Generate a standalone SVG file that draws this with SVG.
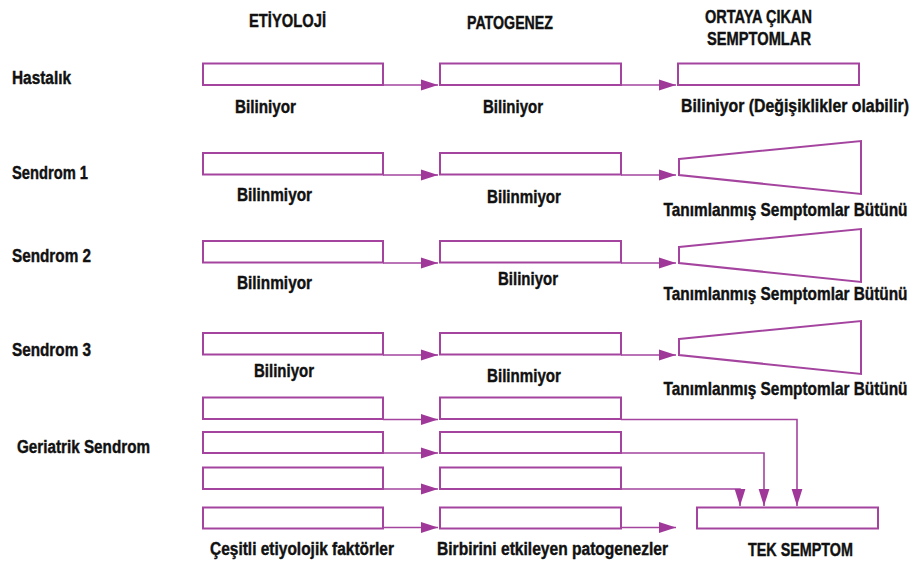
<svg xmlns="http://www.w3.org/2000/svg" width="914" height="567" viewBox="0 0 914 567">
  <defs>
    <style>
      text { font-family: "Liberation Sans", Arial, sans-serif; font-weight: bold; font-size: 18px; fill: #111; stroke: #111; stroke-width: 0.4; }
      .box { fill: #fff; stroke: #a4449f; stroke-width: 2; }
      .conn { fill: none; stroke: #a4449f; stroke-width: 1.6; marker-end: url(#arrow); }
    </style>
    <marker id="arrow" markerUnits="userSpaceOnUse" markerWidth="17" markerHeight="12" refX="17" refY="6" orient="auto">
      <path d="M0,0.6 L17,6 L0,11.4 z" fill="#a0389a"/>
    </marker>
  </defs>
  <rect width="914" height="567" fill="#fff"/>

  <!-- column headings -->
  <g id="headings">
    <text x="249" y="26.5" textLength="77" lengthAdjust="spacingAndGlyphs">ETİYOLOJİ</text>
    <text x="467" y="29" textLength="86" lengthAdjust="spacingAndGlyphs">PATOGENEZ</text>
    <text x="705" y="23.3" textLength="107" lengthAdjust="spacingAndGlyphs">ORTAYA ÇIKAN</text>
    <text x="707" y="45" textLength="104" lengthAdjust="spacingAndGlyphs">SEMPTOMLAR</text>
  </g>

  <!-- row headings -->
  <g id="row-labels">
    <text x="12" y="84" textLength="59" lengthAdjust="spacingAndGlyphs">Hastalık</text>
    <text x="12" y="178.5" textLength="76" lengthAdjust="spacingAndGlyphs">Sendrom 1</text>
    <text x="12" y="261.7" textLength="79" lengthAdjust="spacingAndGlyphs">Sendrom 2</text>
    <text x="12" y="355.7" textLength="79" lengthAdjust="spacingAndGlyphs">Sendrom 3</text>
    <text x="17" y="452.7" textLength="133" lengthAdjust="spacingAndGlyphs">Geriatrik Sendrom</text>
  </g>

  <!-- connectors -->
  <g id="connectors">
    <path class="conn" d="M383,85 H438"/>
    <path class="conn" d="M621,85 H676"/>
    <path class="conn" d="M383,175 H438"/>
    <path class="conn" d="M621,175 H676"/>
    <path class="conn" d="M383,263 H438"/>
    <path class="conn" d="M621,263 H676"/>
    <path class="conn" d="M383,355 H438"/>
    <path class="conn" d="M621,355 H676"/>
    <path class="conn" d="M383,419.5 H438"/>
    <path class="conn" d="M383,453 H438"/>
    <path class="conn" d="M383,489 H438"/>
    <path class="conn" d="M383,527.5 H438"/>
    <path class="conn" d="M621,419.5 H797 V506"/>
    <path class="conn" d="M621,453 H764 V506"/>
    <path class="conn" d="M621,489 H740 V506"/>
    <path class="conn" d="M621,527.5 H676"/>
  </g>

  <!-- Hastalık -->
  <g id="hastalik-etiyoloji">
    <rect class="box" x="203" y="63.5" width="180" height="21.5"/>
    <text x="235" y="112.7" textLength="61" lengthAdjust="spacingAndGlyphs">Biliniyor</text>
  </g>
  <g id="hastalik-patogenez">
    <rect class="box" x="440" y="63.5" width="181" height="21.5"/>
    <text x="483" y="112.7" textLength="60" lengthAdjust="spacingAndGlyphs">Biliniyor</text>
  </g>
  <g id="hastalik-semptom">
    <rect class="box" x="678" y="63.5" width="181" height="21.5"/>
    <text transform="translate(681,111.7) scale(0.8,1)" x="0" y="0" textLength="285" lengthAdjust="spacingAndGlyphs">Biliniyor (Değişiklikler olabilir)</text>
  </g>

  <!-- Sendrom 1 -->
  <g id="sendrom1-etiyoloji">
    <rect class="box" x="203" y="153" width="180" height="21.5"/>
    <text x="237" y="201" textLength="75" lengthAdjust="spacingAndGlyphs">Bilinmiyor</text>
  </g>
  <g id="sendrom1-patogenez">
    <rect class="box" x="440" y="153" width="181" height="21.5"/>
    <text x="487" y="203.3" textLength="74" lengthAdjust="spacingAndGlyphs">Bilinmiyor</text>
  </g>
  <g id="sendrom1-semptom">
    <polygon class="box" points="679,159 861,141 861,194 679,175"/>
    <text transform="translate(663.5,216) scale(0.8,1)" x="0" y="0" textLength="305" lengthAdjust="spacingAndGlyphs">Tanımlanmış Semptomlar Bütünü</text>
  </g>

  <!-- Sendrom 2 -->
  <g id="sendrom2-etiyoloji">
    <rect class="box" x="203" y="241" width="180" height="21.5"/>
    <text x="237" y="289" textLength="75" lengthAdjust="spacingAndGlyphs">Bilinmiyor</text>
  </g>
  <g id="sendrom2-patogenez">
    <rect class="box" x="440" y="241" width="181" height="21.5"/>
    <text x="498" y="285" textLength="60" lengthAdjust="spacingAndGlyphs">Biliniyor</text>
  </g>
  <g id="sendrom2-semptom">
    <polygon class="box" points="679,247 861,229 861,282 679,263"/>
    <text transform="translate(663.5,300) scale(0.8,1)" x="0" y="0" textLength="305" lengthAdjust="spacingAndGlyphs">Tanımlanmış Semptomlar Bütünü</text>
  </g>

  <!-- Sendrom 3 -->
  <g id="sendrom3-etiyoloji">
    <rect class="box" x="203" y="333" width="180" height="21.5"/>
    <text x="254" y="376.7" textLength="60" lengthAdjust="spacingAndGlyphs">Biliniyor</text>
  </g>
  <g id="sendrom3-patogenez">
    <rect class="box" x="440" y="333" width="181" height="21.5"/>
    <text x="487" y="381.7" textLength="74" lengthAdjust="spacingAndGlyphs">Bilinmiyor</text>
  </g>
  <g id="sendrom3-semptom">
    <polygon class="box" points="679,339 861,321 861,374 679,355"/>
    <text transform="translate(663.5,395) scale(0.8,1)" x="0" y="0" textLength="305" lengthAdjust="spacingAndGlyphs">Tanımlanmış Semptomlar Bütünü</text>
  </g>

  <!-- Geriatrik Sendrom -->
  <g id="geriatrik-etiyoloji">
    <rect class="box" x="203" y="397.5" width="180" height="21.5"/>
    <rect class="box" x="203" y="432" width="180" height="21"/>
    <rect class="box" x="203" y="467.5" width="180" height="21.5"/>
    <rect class="box" x="203" y="507.5" width="180" height="21"/>
    <text x="210" y="555" textLength="184" lengthAdjust="spacingAndGlyphs">Çeşitli etiyolojik faktörler</text>
  </g>
  <g id="geriatrik-patogenez">
    <rect class="box" x="440" y="397.5" width="181" height="21.5"/>
    <rect class="box" x="440" y="432" width="181" height="21"/>
    <rect class="box" x="440" y="467.5" width="181" height="21.5"/>
    <rect class="box" x="440" y="507.5" width="181" height="21"/>
    <text x="437" y="555" textLength="231" lengthAdjust="spacingAndGlyphs">Birbirini etkileyen patogenezler</text>
  </g>
  <g id="geriatrik-semptom">
    <rect class="box" x="697" y="507.5" width="181" height="21"/>
    <text x="748" y="556" textLength="105" lengthAdjust="spacingAndGlyphs">TEK SEMPTOM</text>
  </g>
</svg>
